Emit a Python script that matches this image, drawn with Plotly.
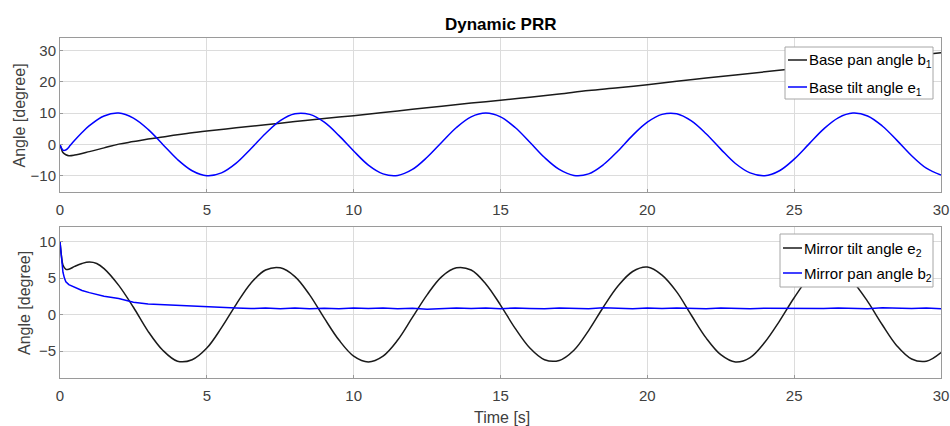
import plotly.graph_objects as go

# ---------------- data ----------------
t_b1 = [0, 0.05, 0.1, 0.2, 0.3, 0.5, 1.0, 1.5, 2.0, 2.5, 3.0, 3.5, 4.0, 4.5, 5.0,
        6, 7, 8, 9, 10, 11, 12, 13, 14, 15, 16, 17, 18, 19, 20,
        21, 22, 23, 24, 25, 26, 27, 28, 29, 30]
base_pan_b1 = [0, -1.5, -2.6, -3.3, -3.6, -3.4, -2.3, -1.1, 0.1, 0.9, 1.7, 2.4, 3.1, 3.7, 4.3,
               5.3, 6.3, 7.3, 8.3, 9.2, 10.2, 11.2, 12.2, 13.2, 14.1, 15.1, 16.1, 17.2, 18.1, 19.1,
               20.2, 21.2, 22.2, 23.2, 24.2, 25.2, 26.3, 27.3, 28.3, 29.3]

t_e1 = [0, 0.05, 0.1, 0.15, 0.25, 0.35, 0.5, 0.75, 1.0, 1.5, 2.0, 2.5, 3.0, 3.5, 4.0, 4.5, 5.0,
        5.5, 6.0, 6.5, 7.0, 7.5, 8.0, 8.5, 9.0, 9.5, 10.0, 10.5, 11.0, 11.5, 12.0, 12.5,
        13.0, 13.5, 14.0, 14.5, 15.0, 15.5, 16.0, 16.5, 17.0, 17.5, 18.0, 18.5, 19.0, 19.5,
        20.0, 20.5, 21.0, 21.5, 22.0, 22.5, 23.0, 23.5, 24.0, 24.5, 25.0, 25.5, 26.0, 26.5,
        27.0, 27.5, 28.0, 28.5, 29.0, 29.5, 30.0]
base_tilt_e1 = [0, -1.2, -1.8, -1.9, -1.4, -0.3, 1.3, 3.8, 6.0, 9.1, 10.0, 8.4, 4.8, 0.0, -4.8, -8.4, -10.0,
                -9.1, -6.0, -1.4, 3.5, 7.6, 9.8, 9.6, 7.1, 2.8, -2.1, -6.6, -9.4, -9.9, -8.0, -4.1,
                0.7, 5.4, 8.8, 10.0, 8.8, 5.4, 0.7, -4.2, -8.0, -9.9, -9.4, -6.5, -2.1, 2.9,
                7.1, 9.6, 9.8, 7.5, 3.4, -1.5, -6.1, -9.1, -10.0, -8.4, -4.7, 0.1, 4.9, 8.5,
                10.0, 9.1, 5.9, 1.3, -3.6, -7.6, -9.8]

t_e2 = [0, 0.05, 0.1, 0.2, 0.3, 0.5, 0.75, 1.0, 1.25, 1.5, 2.0, 2.5, 3.0, 3.5, 4.0, 4.5, 5.0,
        5.5, 6.0, 6.5, 7.0, 7.5, 8.0, 8.5, 9.0, 9.5, 10.0, 10.5, 11.0, 11.5, 12.0, 12.5,
        13.0, 13.5, 14.0, 14.5, 15.0, 15.5, 16.0, 16.5, 17.0, 17.5, 18.0, 18.5, 19.0, 19.5,
        20.0, 20.5, 21.0, 21.5, 22.0, 22.5, 23.0, 23.5, 24.0, 24.5, 25.0, 25.5, 26.0, 26.5,
        27.0, 27.5, 28.0, 28.5, 29.0, 29.5, 30.0]
mirror_tilt_e2 = [10.0, 8.0, 6.8, 6.2, 6.2, 6.6, 7.0, 7.2, 7.0, 6.3, 4.0, 1.0, -2.3, -4.9, -6.4, -6.2, -4.6,
                  -1.8, 1.4, 4.3, 6.1, 6.4, 5.2, 2.7, -0.5, -3.5, -5.7, -6.5, -5.7, -3.5, -0.4, 2.7,
                  5.2, 6.4, 6.1, 4.2, 1.3, -1.9, -4.6, -6.2, -6.3, -4.9, -2.2, 1.0, 3.9, 5.9,
                  6.5, 5.4, 3.1, -0.1, -3.2, -5.5, -6.5, -5.9, -3.8, -0.9, 2.3, 5.0, 6.4, 6.2,
                  4.5, 1.8, -1.4, -4.3, -6.1, -6.4, -5.2]

t_b2 = [0, 0.05, 0.1, 0.15, 0.2, 0.3, 0.5, 0.75, 1.0, 1.5, 2.0, 2.5, 3.0, 3.5, 4.0, 4.5, 5.0,
        5.5, 6.0, 6.5, 7.0, 7.5, 8.0, 8.5, 9.0, 9.5, 10.0, 10.5, 11.0, 11.5, 12.0, 12.5,
        13.0, 13.5, 14.0, 14.5, 15.0, 15.5, 16.0, 16.5, 17.0, 17.5, 18.0, 18.5, 19.0, 19.5,
        20.0, 20.5, 21.0, 21.5, 22.0, 22.5, 23.0, 23.5, 24.0, 24.5, 25.0, 25.5, 26.0, 26.5,
        27.0, 27.5, 28.0, 28.5, 29.0, 29.5, 30.0]
mirror_pan_b2 = [10.0, 7.5, 5.8, 5.0, 4.5, 4.1, 3.7, 3.3, 3.0, 2.5, 2.2, 1.7, 1.45, 1.35, 1.2, 1.1, 1.0,
                 0.95, 0.9, 0.82, 0.88, 0.8, 0.9, 0.78, 0.86, 0.8, 0.88, 0.82, 0.9, 0.8, 0.86, 0.74,
                 0.86, 0.9, 0.82, 0.88, 0.8, 0.9, 0.84, 0.8, 0.9, 0.84, 0.8, 0.92, 0.84, 0.8,
                 0.88, 0.82, 0.9, 0.84, 0.8, 0.88, 0.82, 0.78, 0.86, 0.84, 0.8, 0.88, 0.82, 0.9,
                 0.84, 0.8, 0.92, 0.86, 0.82, 0.88, 0.78]

x_ticks = [0, 5, 10, 15, 20, 25, 30]
y_ticks_top = [-10, 0, 10, 20, 30]
y_ticks_bottom = [-5, 0, 5, 10]

title_text = "<b>Dynamic PRR</b>"
ylabel = "Angle [degree]"
xlabel = "Time [s]"
legend_top = ["Base pan angle b<sub>1</sub>", "Base tilt angle e<sub>1</sub>"]
legend_bottom = ["Mirror tilt angle e<sub>2</sub>", "Mirror pan angle b<sub>2</sub>"]

# ---------------- styling ----------------
W, H = 950, 426
ML, MR, MT, MB = 60, 9, 38, 48
BLACK = "#1a1a1a"
BLUE = "#0000ff"
FONT = "Liberation Sans, Arial, sans-serif"
TICKCOL = "#404040"
GRID = "#dcdcdc"
AXLINE = "#9a9a9a"


def px(x):
    return (x - ML) / (W - ML - MR)


def py(y):
    return (H - MB - y) / (H - MT - MB)


fig = go.Figure()
fig.add_trace(go.Scatter(x=t_b1, y=base_pan_b1, mode="lines", line=dict(color=BLACK, width=1.5, shape="spline"),
                         xaxis="x", yaxis="y", showlegend=False))
fig.add_trace(go.Scatter(x=t_e1, y=base_tilt_e1, mode="lines", line=dict(color=BLUE, width=1.5, shape="spline"),
                         xaxis="x", yaxis="y", showlegend=False))
fig.add_trace(go.Scatter(x=t_e2, y=mirror_tilt_e2, mode="lines", line=dict(color=BLACK, width=1.5, shape="spline"),
                         xaxis="x2", yaxis="y2", showlegend=False))
fig.add_trace(go.Scatter(x=t_b2, y=mirror_pan_b2, mode="lines", line=dict(color=BLUE, width=1.5),
                         xaxis="x2", yaxis="y2", showlegend=False))

axis_common = dict(showline=True, mirror=True, linecolor=AXLINE, linewidth=1, automargin=False,
                   showgrid=True, gridcolor=GRID, gridwidth=1, zeroline=False,
                   ticks="inside", ticklen=3, tickcolor=AXLINE,
                   tickfont=dict(family=FONT, size=15, color=TICKCOL))

top_dom = [py(192), 1.0]
bot_dom = [0.0, py(227)]

fig.update_layout(
    width=W, height=H, autosize=False,
    margin=dict(l=ML, r=MR, t=MT, b=MB, pad=0, autoexpand=False),
    paper_bgcolor="white", plot_bgcolor="white",
    xaxis=dict(domain=[0, 1], range=[0, 30], tickvals=x_ticks, anchor="y", ticklabelstandoff=4, **axis_common),
    yaxis=dict(domain=top_dom, range=[-15.2, 34], tickvals=y_ticks_top, anchor="x", **axis_common),
    xaxis2=dict(domain=[0, 1], range=[0, 30], tickvals=x_ticks, anchor="y2", ticklabelstandoff=4, **axis_common),
    yaxis2=dict(domain=bot_dom, range=[-8.7, 12], tickvals=y_ticks_bottom, anchor="x2", **axis_common),
    showlegend=False,
)

ann = []
ann.append(dict(text=title_text, x=px(500), y=py(25), xref="paper", yref="paper", showarrow=False,
                font=dict(family=FONT, size=17, color="#000000"), xanchor="center", yanchor="middle"))
ann.append(dict(text=ylabel, x=px(19.5), y=py(116), xref="paper", yref="paper", showarrow=False, textangle=-90,
                font=dict(family=FONT, size=16, color=TICKCOL), xanchor="center", yanchor="middle"))
ann.append(dict(text=ylabel, x=px(24), y=py(303), xref="paper", yref="paper", showarrow=False, textangle=-90,
                font=dict(family=FONT, size=16, color=TICKCOL), xanchor="center", yanchor="middle"))
ann.append(dict(text=xlabel, x=px(502), y=py(417), xref="paper", yref="paper", showarrow=False,
                font=dict(family=FONT, size=16, color=TICKCOL), xanchor="center", yanchor="middle"))

shapes = []


def add_legend(box, line_x, text_x, rows, labels, colors):
    x0, y0, x1, y1 = box
    shapes.append(dict(type="rect", xref="paper", yref="paper", x0=px(x0), x1=px(x1), y0=py(y0), y1=py(y1),
                       line=dict(color="#a6a6a6", width=1), fillcolor="white", layer="above"))
    for ry, lab, col in zip(rows, labels, colors):
        shapes.append(dict(type="line", xref="paper", yref="paper", x0=px(line_x[0]), x1=px(line_x[1]),
                           y0=py(ry), y1=py(ry), line=dict(color=col, width=1.5), layer="above"))
        ann.append(dict(text=lab, x=px(text_x), y=py(ry + 1), xref="paper", yref="paper", showarrow=False,
                        font=dict(family=FONT, size=15, color="#000000"), xanchor="left", yanchor="middle"))


add_legend((785, 47, 933, 99), (788, 807), 807, [60, 87], legend_top, [BLACK, BLUE])
add_legend((780, 234, 933, 287), (783, 802), 802, [248, 273], legend_bottom, [BLACK, BLUE])

fig.update_layout(annotations=ann, shapes=shapes)
fig.write_html("out.html", config={"displayModeBar": False},
               post_script="document.body.style.margin='0px';document.body.style.padding='0px';")
